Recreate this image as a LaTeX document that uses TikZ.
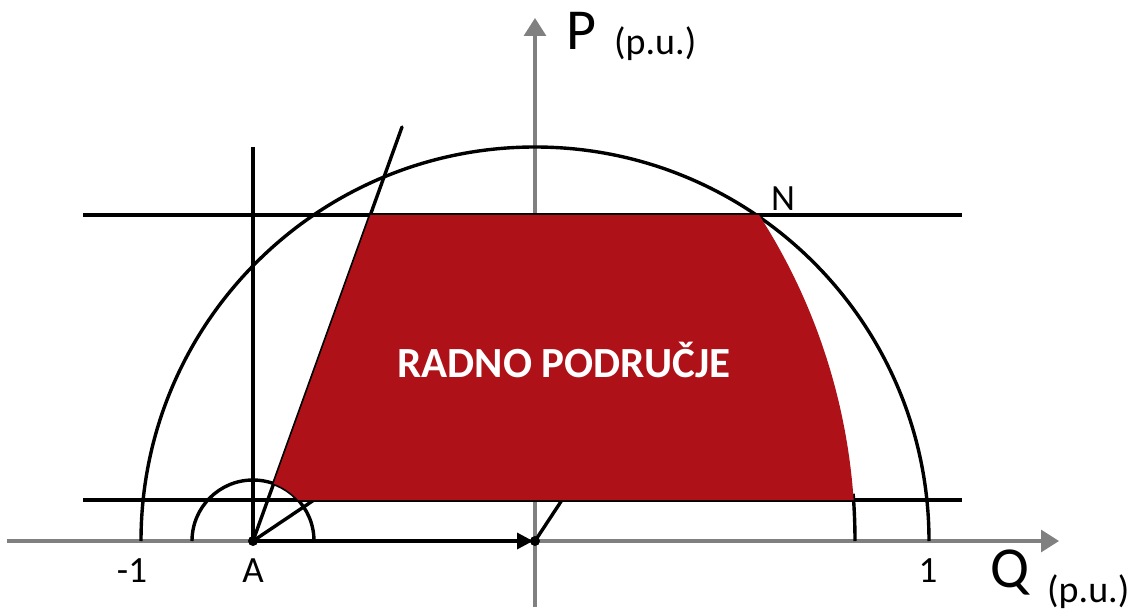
\documentclass[tikz,border=0pt]{standalone}
\usepackage{fontspec}
\setmainfont{Carlito}
\usetikzlibrary{arrows.meta,calc}
\definecolor{regred}{RGB}{174,18,24}
\definecolor{axisgray}{RGB}{128,128,128}
\begin{document}
\begin{tikzpicture}[x=1pt,y=1pt,
  axisline/.style={draw=axisgray,line width=3.2pt,-{Triangle[length=18pt,width=22pt]}},
  blackline/.style={draw=black,line width=3.4pt},
  lbl/.style={inner sep=0pt,font=\fontsize{37}{37}\selectfont},
  biglbl/.style={inner sep=0pt,font=\fontsize{58}{58}\selectfont},
  unitlbl/.style={inner sep=0pt,font=\fontsize{38}{38}\selectfont},
  regionlbl/.style={inner sep=0pt,text=white,font=\fontsize{43}{43}\selectfont\bfseries},
  dotmark/.style={fill=black,circle,inner sep=0pt,minimum size=10pt}]
\useasboundingbox (0,0) rectangle (1148,614);
% key points
\coordinate (O) at (535,73);
\coordinate (A) at (253,73);
\coordinate (xs) at (7,73);
\coordinate (xe) at (1059,73);
\coordinate (ys) at (535,7);
\coordinate (ye) at (535,596);
\coordinate (topL) at (83,399);
\coordinate (topR) at (962,399);
\coordinate (botL) at (83,114);
\coordinate (botR) at (962,114);
\coordinate (vTop) at (253,467);
\coordinate (steepEnd) at (402,487);
\coordinate (shortEnd) at (314,114);
\coordinate (oEnd) at (562,114);
% axes
\draw[axisline] (xs) -- (xe);
\draw[axisline] (ys) -- (ye);
% black construction lines
\draw[blackline] (topL) -- (topR);
\draw[blackline] (botL) -- (botR);
\draw[blackline] (A) -- (vTop);
\draw[blackline,line cap=round] (A) -- (steepEnd);
\draw[blackline] (A) -- (shortEnd);
\draw[blackline] (O) -- (oEnd);
\draw[blackline] ($(O)+(-394,0)$) arc[start angle=180,end angle=0,radius=394];
\draw[blackline] ($(A)+(-61,0)$) arc[start angle=180,end angle=0,radius=61];
\draw[blackline] ($(A)+(602,0)$) arc[start angle=0,end angle=4.5,radius=602];
\draw[black,line width=3.4pt,-{Triangle[length=16pt,width=16pt]},shorten >=2pt] (A) -- (O);
\node[dotmark] (dotA) at (A) {};
\node[dotmark] (dotO) at (O) {};
% working region
\fill[regred] (370.4,399) -- (759.1,399)
  arc[start angle=32.79,end angle=3.905,radius=602]
  -- (298.2,114)
  arc[start angle=42.23,end angle=70.2,radius=61] -- cycle;
\node[regionlbl,anchor=base] (region) at (564,237) {RADNO PODRUČJE};
% labels
\node[lbl,anchor=base] (lm1) at (132,32) {-1};
\node[lbl,anchor=base] (lA) at (253,32) {A};
\node[lbl,anchor=base] (l1) at (928,32) {1};
\node[lbl,anchor=base west] (lN) at (771,403) {N};
\node[biglbl,anchor=base west] (lP) at (566,564) {P};
\node[unitlbl,anchor=base west] (lPu) at (614,559) {(p.u.)};
\node[biglbl,anchor=base west] (lQ) at (990,27) {Q};
\node[unitlbl,anchor=base west] (lQu) at (1047,12) {(p.u.)};
\end{tikzpicture}
\end{document}
